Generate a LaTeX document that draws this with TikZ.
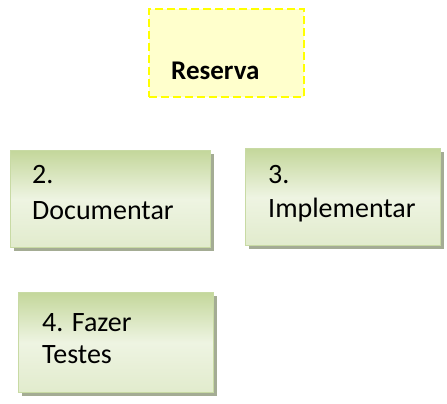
\documentclass[tikz,border=0pt]{standalone}
\usepackage{fontspec}
\setmainfont{Carlito}
\usetikzlibrary{positioning,shadows}
\definecolor{Reserve}{HTML}{FFFFCC}
\definecolor{Yellow}{HTML}{FFFF00}
\definecolor{GreenDark}{HTML}{C4D79B}
\definecolor{GreenLight}{HTML}{EEF4E2}
\definecolor{GreenEdge}{HTML}{C8DAA4}
\definecolor{Shadow}{HTML}{A4AC94}
\begin{document}
\begin{tikzpicture}[x=1pt,y=-1pt,
    taskbox/.style={draw=GreenEdge,line width=1.2pt,minimum width=200pt,minimum height=97pt,anchor=north west,inner sep=0pt,
      top color=GreenDark,bottom color=GreenLight!70!GreenDark,middle color=GreenLight,
      general shadow={fill=Shadow,shadow xshift=3pt,shadow yshift=-3pt}},
    tasktext/.style={font=\fontsize{28}{36}\selectfont,align=left,anchor=base west,inner sep=0pt}]
        \useasboundingbox(0,0)rectangle(447,404);
        % reserve
        \node[draw=Yellow,line width=2pt,dash pattern=on 8pt off 4pt,fill=Reserve,minimum width=155pt,minimum height=88pt,anchor=north west](res)at(148,8){};
        \node[font=\fontsize{27}{30}\selectfont\bfseries,anchor=base west,inner sep=0pt](restxt)at(171,79){Reserva};
        % tasks
        \node[taskbox](doc)at(10,150){};
        \node[tasktext](doctxt)at(32,219){2.\\Documentar};
        \node[taskbox,minimum width=195pt](impl)at(245,148){};
        \node[tasktext,font=\fontsize{28}{34}\selectfont](impltxt)at(268,217){3.\\Implementar};
        \node[taskbox,minimum width=195pt,minimum height=100pt](test)at(18,292){};
        \node[tasktext,font=\fontsize{28}{32}\selectfont](testtxt)at(42,363){4. Fazer\\Testes};
      \end{tikzpicture}
\end{document}
